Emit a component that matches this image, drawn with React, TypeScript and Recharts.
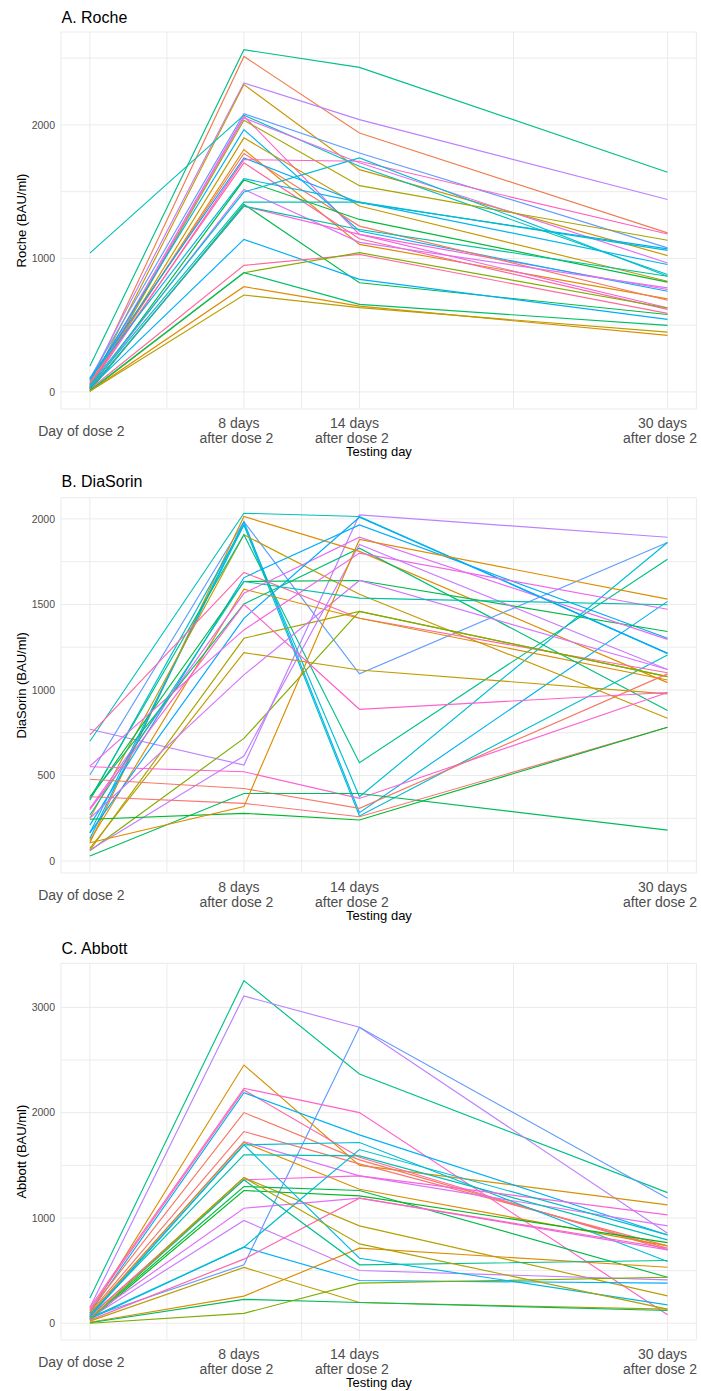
import React from 'react';
import { LineChart, Line, XAxis, YAxis, CartesianGrid } from 'recharts';

// ---------- shared categories / ticks ----------
const days = [0, 8, 14, 30];
const xTickLabels = ['Day of dose 2', '8 days\nafter dose 2', '14 days\nafter dose 2', '30 days\nafter dose 2'];
const xGridTicks = [0, 4, 8, 11, 14, 22, 30];

// ---------- A. Roche : values at [day0, day8, day14, day30] ----------
const rocheValues: number[][] = [
  [194, 2563, 2431, 1645],
  [60, 2513, 1940, 1191],
  [90, 2314, 2040, 1441],
  [40, 2302, 1665, 1021],
  [100, 2084, 1790, 1079],
  [1040, 2073, 1690, 879],
  [50, 2065, 1180, 767],
  [30, 2052, 1716, 966],
  [20, 2035, 1545, 1136],
  [80, 1965, 1205, 754],
  [30, 1903, 1392, 829],
  [50, 1816, 1105, 697],
  [70, 1786, 1242, 687],
  [100, 1753, 1417, 1071],
  [40, 1740, 1728, 1183],
  [60, 1716, 1147, 618],
  [100, 1597, 1422, 954],
  [20, 1587, 1292, 822],
  [30, 1517, 1120, 779],
  [50, 1497, 1753, 866],
  [40, 1422, 1422, 1060],
  [10, 1405, 818, 580],
  [20, 1392, 1180, 630],
  [30, 1142, 843, 543],
  [20, 948, 1030, 588],
  [5, 893, 1043, 629],
  [10, 893, 656, 498],
  [5, 788, 643, 423],
  [5, 726, 631, 448],
  [20, 1392, 1217, 866],
];
const rocheHues = [165, 25, 280, 60, 255, 190, 325, 300, 85, 228, 65, 45, 20, 240, 335, 350, 222, 135, 295, 205, 195, 140, 315, 232, 355, 105, 150, 45, 75, 175];
const rocheYTicks = [0, 500, 1000, 1500, 2000, 2500];
const rocheYLabels = [0, 1000, 2000];

// ---------- B. DiaSorin ----------
const diasorinValues: number[][] = [
  [770, 561, 2023, 1893],
  [503, 1984, 1094, 1862],
  [700, 2033, 2014, 1214],
  [107, 2014, 1810, 1043],
  [165, 1965, 376, 1862],
  [132, 1984, 283, 1518],
  [356, 1965, 263, 1204],
  [250, 1907, 1560, 835],
  [366, 1907, 575, 1764],
  [737, 1687, 1419, 1101],
  [210, 1657, 1965, 1302],
  [366, 1634, 1640, 1342],
  [120, 1589, 1419, 1058],
  [308, 1565, 1893, 1296],
  [376, 1503, 1829, 880],
  [165, 1419, 2010, 1214],
  [555, 1351, 1800, 1472],
  [64, 1302, 1459, 1078],
  [74, 1218, 1117, 977],
  [250, 1088, 1640, 1120],
  [60, 717, 1459, 1078],
  [64, 614, 1850, 1120],
  [551, 522, 366, 985],
  [478, 424, 308, 1094],
  [376, 337, 259, 782],
  [29, 395, 395, 181],
  [244, 279, 240, 782],
  [107, 318, 1880, 1531],
  [269, 1634, 1537, 1498],
  [300, 1500, 887, 985],
];
const diasorinHues = [280, 255, 190, 45, 205, 228, 200, 65, 165, 350, 235, 138, 48, 300, 155, 240, 310, 85, 70, 292, 105, 285, 325, 18, 12, 145, 132, 45, 180, 330];
const diasorinYTicks = [0, 250, 500, 750, 1000, 1250, 1500, 1750, 2000];
const diasorinYLabels = [0, 500, 1000, 1500, 2000];

// ---------- C. Abbott ----------
const abbottValues: number[][] = [
  [240, 3254, 2368, 1241],
  [150, 3108, 2811, 855],
  [60, 555, 2811, 1188],
  [100, 2453, 1500, 1124],
  [150, 2232, 2001, 80],
  [130, 2216, 1577, 697],
  [100, 2191, 1789, 839],
  [120, 2001, 1552, 713],
  [100, 1821, 1514, 735],
  [80, 1726, 1400, 925],
  [90, 1717, 1273, 735],
  [70, 1695, 1717, 586],
  [80, 1600, 1590, 792],
  [60, 1384, 925, 260],
  [70, 1362, 1400, 1029],
  [40, 1299, 1261, 437],
  [30, 1261, 1210, 766],
  [60, 1093, 1188, 697],
  [50, 976, 501, 412],
  [40, 723, 406, 381],
  [30, 609, 1188, 713],
  [20, 530, 197, 134],
  [10, 258, 713, 532],
  [5, 227, 197, 121],
  [0, 94, 381, 437],
  [40, 1362, 555, 596],
  [60, 1695, 618, 175],
  [50, 723, 1650, 839],
  [40, 1384, 754, 134],
];
const abbottHues = [165, 280, 255, 55, 330, 350, 228, 20, 15, 295, 45, 205, 185, 75, 320, 140, 130, 300, 285, 232, 345, 72, 45, 145, 105, 165, 215, 200, 82];
const abbottYTicks = [0, 500, 1000, 1500, 2000, 2500, 3000];
const abbottYLabels = [0, 1000, 2000, 3000];

// ---------- colour helper (ggplot2 hue palette: HCL, c=100, l=65) ----------
function hcl(h: number, c = 100, l = 65): string {
  const hr = (h * Math.PI) / 180;
  const U = c * Math.cos(hr);
  const V = c * Math.sin(hr);
  const Xn = 95.047, Yn = 100, Zn = 108.883;
  const den = Xn + 15 * Yn + 3 * Zn;
  const un = (4 * Xn) / den;
  const vn = (9 * Yn) / den;
  const Y = Yn * Math.pow((l + 16) / 116, 3);
  const up = U / (13 * l) + un;
  const vp = V / (13 * l) + vn;
  const X = (9 * Y * up) / (4 * vp);
  const Z = (Y * (12 - 3 * up - 20 * vp)) / (4 * vp);
  const x = X / 100, y = Y / 100, z = Z / 100;
  const lin = [
    3.240479 * x - 1.53715 * y - 0.498535 * z,
    -0.969256 * x + 1.875992 * y + 0.041556 * z,
    0.055648 * x - 0.204043 * y + 1.057311 * z,
  ];
  const hex = lin
    .map((v) => {
      const g = v <= 0.0031308 ? 12.92 * v : 1.055 * Math.pow(v, 1 / 2.4) - 0.055;
      const n = Math.round(Math.max(0, Math.min(1, g)) * 255);
      return n.toString(16).padStart(2, '0');
    })
    .join('');
  return '#' + hex;
}

const FONT = '"Liberation Sans", Arial, Helvetica, sans-serif';

function buildRows(values: number[][]) {
  return days.map((d, i) => {
    const row: Record<string, number> = { day: d };
    values.forEach((s, j) => {
      row['s' + j] = s[i];
    });
    return row;
  });
}

const XTick = (props: any) => {
  const { x, y, payload } = props;
  const idx = days.indexOf(payload.value);
  if (idx < 0) return <g />;
  const lines = xTickLabels[idx].split('\n');
  if (lines.length === 1) {
    return (
      <text x={x - 8.5} y={y + 27} textAnchor="middle" fontSize={14} fill="#4d4d4d" fontFamily={FONT}>
        {lines[0]}
      </text>
    );
  }
  return (
    <text textAnchor="middle" fontSize={14} fill="#4d4d4d" fontFamily={FONT}>
      <tspan x={x - 5} y={y + 19}>{lines[0]}</tspan>
      <tspan x={x - 7.5} y={y + 34}>{lines[1]}</tspan>
    </text>
  );
};

const makeYTick = (labels: number[]) => (props: any) => {
  const { x, y, payload } = props;
  if (!labels.includes(payload.value)) return <g />;
  return (
    <text x={x - 6} y={y + 3.7} textAnchor="end" fontSize={10.5} fill="#4d4d4d" fontFamily={FONT}>
      {payload.value}
    </text>
  );
};

type PanelProps = {
  top: number;
  height: number;
  marginTop: number;
  xAxisHeight: number;
  values: number[][];
  hues: number[];
  yDomain: [number, number];
  yTicks: number[];
  yLabels: number[];
};

function Panel({ top, height, marginTop, xAxisHeight, values, hues, yDomain, yTicks, yLabels }: PanelProps) {
  const rows = buildRows(values);
  return (
    <div style={{ position: 'absolute', left: 0, top, width: 701, height }}>
      <LineChart width={701} height={height} data={rows} margin={{ top: marginTop, right: 4.6, bottom: 0, left: 0 }}>
        <CartesianGrid stroke="#ebebeb" strokeWidth={1} />
        <XAxis
          dataKey="day"
          type="number"
          domain={[-1.5, 31.5]}
          ticks={xGridTicks}
          interval={0}
          allowDataOverflow
          axisLine={false}
          tickLine={false}
          tickSize={0}
          tickMargin={0}
          height={xAxisHeight}
          tick={(p: any) => <XTick {...p} />}
        />
        <YAxis
          type="number"
          domain={yDomain}
          ticks={yTicks}
          interval={0}
          allowDataOverflow
          axisLine={false}
          tickLine={false}
          tickSize={0}
          tickMargin={0}
          width={61}
          tick={makeYTick(yLabels)}
        />
        {values.map((_, j) => (
          <Line
            key={j}
            type="linear"
            dataKey={'s' + j}
            stroke={hcl(hues[j])}
            strokeWidth={1.15}
            dot={false}
            activeDot={false}
            isAnimationActive={false}
          />
        ))}
      </LineChart>
    </div>
  );
}

const panelTitles = ['A. Roche', 'B. DiaSorin', 'C. Abbott'];
const yTitles = ['Roche (BAU/ml)', 'DiaSorin (BAU/ml)', 'Abbott (BAU/ml)'];
const xTitle = 'Testing day';

export default function App() {
  // plot areas (top, bottom) of each panel
  const plots = [
    { t: 32, b: 409 },
    { t: 497.7, b: 873 },
    { t: 963.3, b: 1340 },
  ];
  const titleCenters = [17.3, 481.7, 948.3];
  return (
    <div style={{ position: 'absolute', left: 0, top: 0, width: 701, height: 1391, background: '#fff', overflow: 'hidden' }}>
      <Panel top={0} height={462} marginTop={32} xAxisHeight={53} values={rocheValues} hues={rocheHues}
        yDomain={[-128, 2696]} yTicks={rocheYTicks} yLabels={rocheYLabels} />
      <Panel top={462} height={462} marginTop={35.7} xAxisHeight={51} values={diasorinValues} hues={diasorinHues}
        yDomain={[-70, 2124]} yTicks={diasorinYTicks} yLabels={diasorinYLabels} />
      <Panel top={924} height={467} marginTop={39.3} xAxisHeight={51} values={abbottValues} hues={abbottHues}
        yDomain={[-159, 3419]} yTicks={abbottYTicks} yLabels={abbottYLabels} />
      <svg width={701} height={1391} style={{ position: 'absolute', left: 0, top: 0, pointerEvents: 'none' }}>
        {plots.map((p, i) => {
          const yc = (p.t + p.b) / 2;
          return (
            <g key={i} fontFamily={FONT}>
              <text x={61.5} y={titleCenters[i] + 5.7} fontSize={16} fill="#000">{panelTitles[i]}</text>
              <text x={379} y={p.b + 44 + 3.3} fontSize={13} fill="#000" textAnchor="middle">{xTitle}</text>
              <text x={0} y={0} fontSize={13} fill="#000" textAnchor="middle" dominantBaseline="central"
                transform={`translate(21.3, ${yc}) rotate(-90)`}>{yTitles[i]}</text>
            </g>
          );
        })}
      </svg>
    </div>
  );
}
